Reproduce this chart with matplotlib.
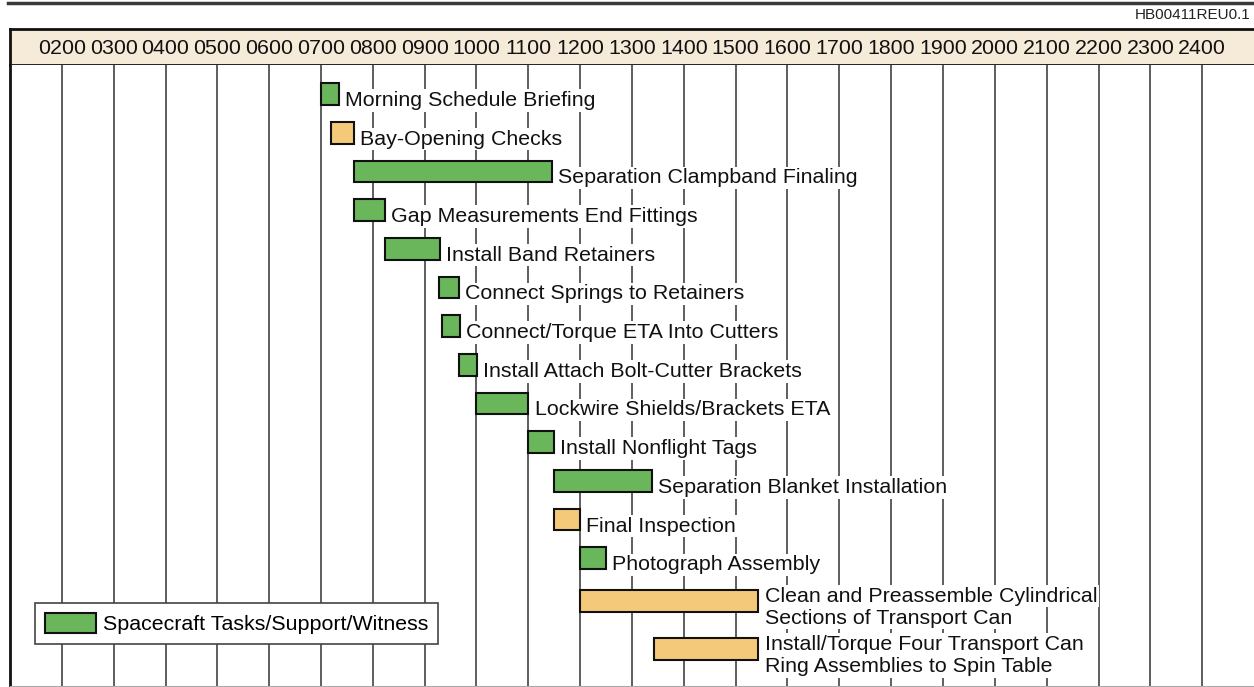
import matplotlib
matplotlib.use("Agg")
import matplotlib.pyplot as plt
from matplotlib.patches import Patch
from matplotlib.lines import Line2D

plt.rcParams['font.family'] = ['Liberation Sans', 'DejaVu Sans']

# schedule data (hours of day)
tasks = [
    "Morning Schedule Briefing",
    "Bay-Opening Checks",
    "Separation Clampband Finaling",
    "Gap Measurements End Fittings",
    "Install Band Retainers",
    "Connect Springs to Retainers",
    "Connect/Torque ETA Into Cutters",
    "Install Attach Bolt-Cutter Brackets",
    "Lockwire Shields/Brackets ETA",
    "Install Nonflight Tags",
    "Separation Blanket Installation",
    "Final Inspection",
    "Photograph Assembly",
    "Clean and Preassemble Cylindrical\nSections of Transport Can",
    "Install/Torque Four Transport Can\nRing Assemblies to Spin Table",
]
start = [7.0, 7.2, 7.63, 7.63, 8.23, 9.27, 9.33, 9.66, 10.0, 11.0, 11.5, 11.5, 12.0, 12.0, 13.42]
end = [7.35, 7.63, 11.45, 8.23, 9.29, 9.66, 9.68, 10.0, 11.0, 11.49, 13.39, 12.0, 12.5, 15.44, 15.44]
spacecraft = [True, False, True, True, True, True, True, True, True, True, True, False, True, False, False]
hours = list(range(2, 25))
hour_labels = ["%02d00" % h for h in hours]
legend_label = "Spacecraft Tasks/Support/Witness"
fig_id = "HB00411REU0.1"

# row layout (rows 13/14 hold two-line labels)
row_y = [0, 1, 2, 3, 4, 5, 6, 7, 8, 9, 10, 11, 12, 13.1, 14.35]

GREEN = '#69b65b'
ORANGE = '#f4c97a'
HEADER = '#f6ebd9'
FS = 15.4
W, H = 1254, 687

fig = plt.figure(figsize=(W / 100, H / 100), dpi=100)

# header strip with hour labels
hx = fig.add_axes([10 / W, (H - 65) / H, (W - 10) / W, 36 / H])
hx.set_facecolor(HEADER)
hx.set_xlim(1, 25)
hx.set_ylim(0, 1)
hx.set_xticks([])
hx.set_yticks([])
for s in ['top', 'left', 'bottom']:
    hx.spines[s].set_linewidth(2)
    hx.spines[s].set_color('#111111')
hx.spines['right'].set_visible(False)
for h, lab in zip(hours, hour_labels):
    hx.text(h, 0.47, lab, ha='center', va='center', fontsize=FS, color='#111111')

# chart body
ax = fig.add_axes([10 / W, 1 / H, (W - 10) / W, (686 - 65) / H])
ax.set_xlim(1, 25)
ax.set_ylim(15.30, -0.75)
ax.set_xticks([])
ax.set_yticks([])
for h in hours:
    ax.axvline(h, color='#333333', lw=1.1, zorder=0)
ax.spines['left'].set_linewidth(2)
ax.spines['left'].set_color('#111111')
ax.spines['bottom'].set_color('#aaaaaa')
ax.spines['top'].set_visible(False)
ax.spines['right'].set_visible(False)

box = dict(boxstyle='square,pad=0.08', fc='white', ec='none')
for name, s, e, sc, y in zip(tasks, start, end, spacecraft, row_y):
    ax.barh(y, e - s, left=s, height=0.56, color=GREEN if sc else ORANGE,
            edgecolor='#111111', linewidth=1.5, zorder=2)
    lines = name.split('\n')
    if len(lines) == 1:
        offs = [-8.6]          # baseline just under the bar
    else:
        offs = [-0.5, -16.3]   # two lines straddling the bar
    for line, dy in zip(lines, offs):
        ax.annotate(line, (e, y), xytext=(4.5, dy), textcoords='offset points',
                    ha='left', va='baseline', fontsize=FS, color='#111111',
                    zorder=3, bbox=box)

leg = ax.legend(handles=[Patch(facecolor=GREEN, edgecolor='#111111', linewidth=1.5, label=legend_label)],
                loc='upper left', bbox_to_anchor=(35 / W, (H - 603) / H),
                bbox_transform=fig.transFigure, fontsize=FS, frameon=True,
                fancybox=False, framealpha=1, edgecolor='#444444',
                handlelength=2.4, handleheight=1.1, handletextpad=0.33,
                borderpad=0.45, borderaxespad=0)
leg.get_frame().set_linewidth(1.2)

# top rule and figure id
fig.add_artist(Line2D([8 / W, 1], [1 - 3 / H, 1 - 3 / H], color='#3a3a3a', lw=2.5))
fig.text(1250 / W, 1 - 15 / H, fig_id, ha='right', va='center', fontsize=11, color='#222222')

fig.savefig('out.png', dpi=100)
